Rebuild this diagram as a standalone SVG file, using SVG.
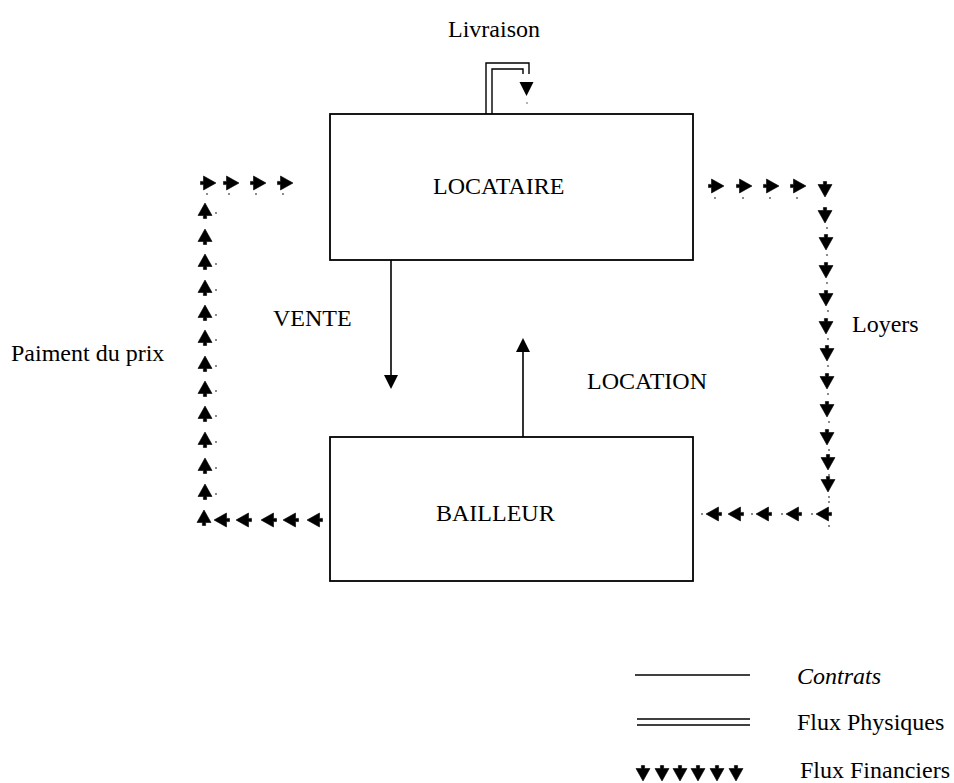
<svg xmlns="http://www.w3.org/2000/svg" xmlns:xlink="http://www.w3.org/1999/xlink" width="954" height="783" viewBox="0 0 954 783">
<style>
  .t { font-family: "Liberation Serif", "Times New Roman", serif; font-size: 24px; fill: #000; }
  .ti { font-style: italic; }
  .box { fill: #fff; stroke: #000; stroke-width: 1.8; }
  .ln { fill: none; stroke: #000; stroke-width: 1.6; }
  .dl { fill: none; stroke: #000; stroke-width: 1.4; }
  .dot { fill: #555; }
</style>
<defs>
  <path id="fa" d="M0,-8 L7,4.5 L1.6,4.5 L1.6,7.5 L-1.6,7.5 L-1.6,4.5 L-7,4.5 Z" fill="#000" stroke="#000" stroke-width="0.6" stroke-linejoin="round"/>
  <path id="ah" d="M0,0 L-7,-14 L7,-14 Z" fill="#000"/>
</defs>
<rect width="954" height="783" fill="#fff"/>

<g id="locataire">
  <rect class="box" x="330" y="114" width="363" height="146"/>
  <text class="t" x="433" y="194">LOCATAIRE</text>
</g>
<g id="bailleur">
  <rect class="box" x="330" y="437" width="363" height="144"/>
  <text class="t" x="436" y="521">BAILLEUR</text>
</g>

<g id="connectors">
  <!-- Livraison double line -->
  <path class="dl" d="M486,114 V63 H529 V74"/>
  <path class="dl" d="M492,114 V69 H523 V74"/>
  <use xlink:href="#ah" transform="translate(526.5,96)"/>
  <circle class="dot" cx="527" cy="103" r="0.8"/>
  <!-- VENTE -->
  <line class="ln" x1="391" y1="260" x2="391" y2="377"/>
  <use xlink:href="#ah" transform="translate(391,389)"/>
  <!-- LOCATION -->
  <line class="ln" x1="523" y1="437" x2="523" y2="350"/>
  <use xlink:href="#ah" transform="translate(523,338) rotate(180)"/>

  <!-- Paiment du prix: bottom row (left-pointing) -->
  <g id="pay-bottom">
    <use xlink:href="#fa" transform="translate(315,520) rotate(-90)"/>
    <use xlink:href="#fa" transform="translate(291,520) rotate(-90)"/>
    <use xlink:href="#fa" transform="translate(269,520) rotate(-90)"/>
    <use xlink:href="#fa" transform="translate(244,520) rotate(-90)"/>
    <use xlink:href="#fa" transform="translate(222,520) rotate(-90)"/>
  </g>
  <!-- left column (up) -->
  <g id="pay-left">
    <use xlink:href="#fa" transform="translate(204,518)"/>
    <use xlink:href="#fa" transform="translate(205,492)"/>
    <use xlink:href="#fa" transform="translate(205,466)"/>
    <use xlink:href="#fa" transform="translate(205,440)"/>
    <use xlink:href="#fa" transform="translate(205,414)"/>
    <use xlink:href="#fa" transform="translate(205,389)"/>
    <use xlink:href="#fa" transform="translate(205,364)"/>
    <use xlink:href="#fa" transform="translate(205,338)"/>
    <use xlink:href="#fa" transform="translate(205,313)"/>
    <use xlink:href="#fa" transform="translate(205,288)"/>
    <use xlink:href="#fa" transform="translate(205,262)"/>
    <use xlink:href="#fa" transform="translate(205,237)"/>
    <use xlink:href="#fa" transform="translate(205,211)"/>
    <circle class="dot" cx="216" cy="494" r="0.9"/>
    <circle class="dot" cx="216" cy="468" r="0.9"/>
    <circle class="dot" cx="216" cy="442" r="0.9"/>
    <circle class="dot" cx="216" cy="416" r="0.9"/>
    <circle class="dot" cx="216" cy="391" r="0.9"/>
    <circle class="dot" cx="216" cy="366" r="0.9"/>
    <circle class="dot" cx="216" cy="340" r="0.9"/>
    <circle class="dot" cx="216" cy="315" r="0.9"/>
    <circle class="dot" cx="216" cy="290" r="0.9"/>
    <circle class="dot" cx="216" cy="264" r="0.9"/>
    <circle class="dot" cx="216" cy="213" r="0.9"/>
  </g>
  <!-- top-left row (right-pointing) -->
  <g id="pay-top">
    <use xlink:href="#fa" transform="translate(208,183) rotate(90)"/>
    <use xlink:href="#fa" transform="translate(231,183) rotate(90)"/>
    <use xlink:href="#fa" transform="translate(258,183) rotate(90)"/>
    <use xlink:href="#fa" transform="translate(285,183) rotate(90)"/>
    <circle class="dot" cx="207" cy="194" r="0.9"/>
    <circle class="dot" cx="229" cy="194" r="0.9"/>
    <circle class="dot" cx="256" cy="194" r="0.9"/>
    <circle class="dot" cx="283" cy="194" r="0.9"/>
  </g>

  <!-- Loyers: top-right row (right-pointing) -->
  <g id="rent-top">
    <use xlink:href="#fa" transform="translate(716,186) rotate(90)"/>
    <use xlink:href="#fa" transform="translate(744,186) rotate(90)"/>
    <use xlink:href="#fa" transform="translate(771,186) rotate(90)"/>
    <use xlink:href="#fa" transform="translate(798,186) rotate(90)"/>
    <circle class="dot" cx="715" cy="198" r="0.9"/>
    <circle class="dot" cx="743" cy="198" r="0.9"/>
    <circle class="dot" cx="770" cy="198" r="0.9"/>
    <circle class="dot" cx="797" cy="198" r="0.9"/>
  </g>
  <!-- right column (down) -->
  <g id="rent-right">
    <use xlink:href="#fa" transform="translate(825,189) rotate(180)"/>
    <use xlink:href="#fa" transform="translate(825,215) rotate(180)"/>
    <use xlink:href="#fa" transform="translate(826,242) rotate(180)"/>
    <use xlink:href="#fa" transform="translate(826,270) rotate(180)"/>
    <use xlink:href="#fa" transform="translate(826,298) rotate(180)"/>
    <use xlink:href="#fa" transform="translate(826,326) rotate(180)"/>
    <use xlink:href="#fa" transform="translate(827,353) rotate(180)"/>
    <use xlink:href="#fa" transform="translate(827,381) rotate(180)"/>
    <use xlink:href="#fa" transform="translate(827,409) rotate(180)"/>
    <use xlink:href="#fa" transform="translate(827,437) rotate(180)"/>
    <use xlink:href="#fa" transform="translate(828,462) rotate(180)"/>
    <use xlink:href="#fa" transform="translate(828,484) rotate(180)"/>
    <circle class="dot" cx="827" cy="228" r="0.9"/>
    <circle class="dot" cx="827" cy="255" r="0.9"/>
    <circle class="dot" cx="827" cy="283" r="0.9"/>
    <circle class="dot" cx="828" cy="311" r="0.9"/>
    <circle class="dot" cx="828" cy="339" r="0.9"/>
    <circle class="dot" cx="828" cy="366" r="0.9"/>
    <circle class="dot" cx="828" cy="394" r="0.9"/>
    <circle class="dot" cx="829" cy="422" r="0.9"/>
    <circle class="dot" cx="829" cy="450" r="0.9"/>
    <circle class="dot" cx="829" cy="475" r="0.9"/>
    <circle class="dot" cx="829" cy="497" r="0.9"/>
    <circle class="dot" cx="829" cy="502" r="0.9"/>
    <circle class="dot" cx="829" cy="526" r="0.9"/>
  </g>
  <!-- bottom-right row (left-pointing) -->
  <g id="rent-bottom">
    <use xlink:href="#fa" transform="translate(824,514) rotate(-90)"/>
    <use xlink:href="#fa" transform="translate(794,514) rotate(-90)"/>
    <use xlink:href="#fa" transform="translate(764,514) rotate(-90)"/>
    <use xlink:href="#fa" transform="translate(736,514) rotate(-90)"/>
    <use xlink:href="#fa" transform="translate(714,514) rotate(-90)"/>
    <circle class="dot" cx="702" cy="514" r="0.9"/>
    <circle class="dot" cx="752" cy="514" r="0.9"/>
    <circle class="dot" cx="782" cy="514" r="0.9"/>
    <circle class="dot" cx="812" cy="514" r="0.9"/>
  </g>
</g>

<g id="labels">
  <text class="t" x="448" y="37">Livraison</text>
  <text class="t" x="273" y="326">VENTE</text>
  <text class="t" x="11" y="361">Paiment du prix</text>
  <text class="t" x="852" y="332">Loyers</text>
  <text class="t" x="587" y="389">LOCATION</text>
</g>

<g id="legend">
  <line class="ln" x1="635" y1="675" x2="750" y2="675"/>
  <line class="dl" x1="637" y1="719" x2="750" y2="719"/>
  <line class="dl" x1="637" y1="725" x2="750" y2="725"/>
  <use xlink:href="#fa" transform="translate(643,773) rotate(180)"/>
  <use xlink:href="#fa" transform="translate(662,773) rotate(180)"/>
  <use xlink:href="#fa" transform="translate(680,773) rotate(180)"/>
  <use xlink:href="#fa" transform="translate(698,773) rotate(180)"/>
  <use xlink:href="#fa" transform="translate(717,773) rotate(180)"/>
  <use xlink:href="#fa" transform="translate(736,773) rotate(180)"/>
  <text class="t ti" x="797" y="684">Contrats</text>
  <text class="t" x="797" y="730">Flux Physiques</text>
  <text class="t" x="800" y="778">Flux Financiers</text>
</g>
</svg>
